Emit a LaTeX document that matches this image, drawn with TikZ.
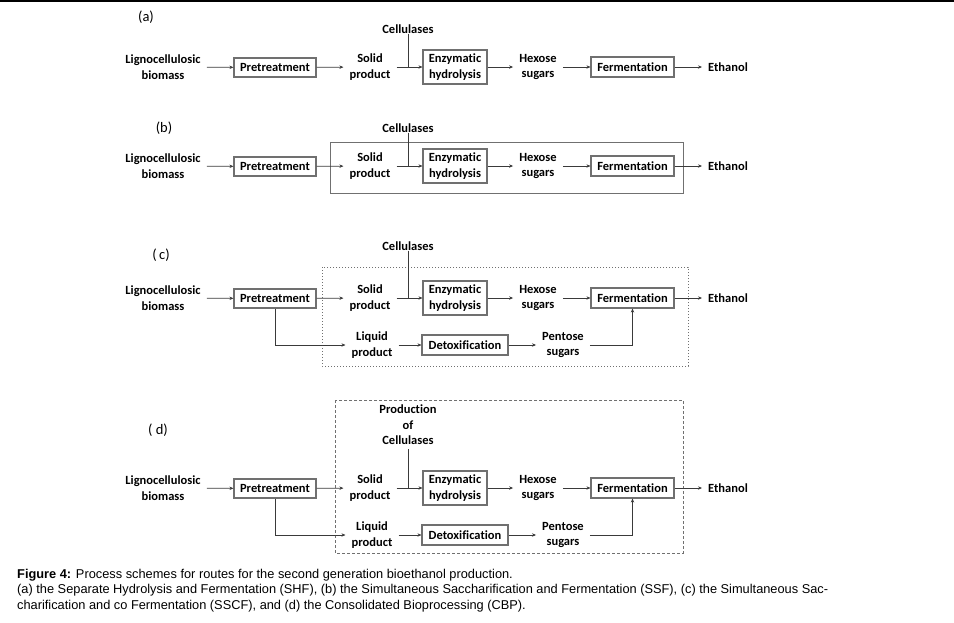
\documentclass[tikz,border=0pt]{standalone}
\usepackage{fontspec}
\setmainfont{Liberation Sans}
\newfontfamily\calfont[Ligatures=CommonOff]{Carlito}
\newfontfamily\capfont{Liberation Sans}
\usetikzlibrary{arrows.meta}
\definecolor{ln}{HTML}{3A3A3A}
\definecolor{bx}{HTML}{707070}
\tikzset{
  lbl/.style={font=\calfont\bfseries\fontsize{12.5}{15.5}\selectfont, align=center, inner sep=0pt, text=black},
  txt/.style={lbl, inner xsep=6pt},
  procbox/.style={lbl, draw=bx, line width=1.1pt, fill=white, inner xsep=4pt, inner ysep=3pt},
  part/.style={font=\calfont\fontsize{14.5}{16}\selectfont, inner sep=0pt},
  arr/.style={draw=ln, line width=0.7pt, -{Stealth[length=4pt,width=3.4pt]}},
  ln/.style={draw=ln, line width=0.7pt},
  captxt/.style={anchor=west, inner sep=0pt, font=\capfont\fontsize{12.8}{15.5}\selectfont},
}
\begin{document}
\begin{tikzpicture}[x=1pt,y=-1pt]
\useasboundingbox (0,0) rectangle (954,622);
\fill[black] (0,0) rectangle (954,1.6);

% ---------------- (a)
\node[part] (la) at (146,17) {(a)};
\node[lbl] (celA) at (408,29) {Cellulases};
\node[txt] (bioA) at (163,67) {Lignocellulosic\\biomass};
\node[procbox, minimum width=82pt, minimum height=19pt] (preA) at (275,67.5) {Pretreatment};
\node[txt] (solA) at (370,67) {Solid\\product};
\node[procbox, minimum width=64pt, minimum height=34pt] (enzA) at (455,67) {Enzymatic\\hydrolysis};
\node[txt] (hexA) at (538,67) {Hexose\\sugars};
\node[procbox, minimum width=83pt, minimum height=20pt] (ferA) at (632.5,67) {Fermentation};
\node[txt] (ethA) at (728,67) {Ethanol};
\draw[arr] (bioA) -- (preA);
\draw[arr] (preA) -- (solA);
\draw[arr] (solA) -- (enzA);
\draw[ln] (celA.south) -- (celA.south |- solA.center);
\draw[arr] (enzA) -- (hexA);
\draw[arr] (hexA) -- (ferA);
\draw[arr] (ferA) -- (ethA);

% ---------------- (b)
\node[part] (lb) at (164,128) {(b)};
\draw[draw=bx, line width=0.8pt] (330,142) rectangle (683,193);
\node[lbl] (celB) at (408,128) {Cellulases};
\node[txt] (bioB) at (163,166) {Lignocellulosic\\biomass};
\node[procbox, minimum width=82pt, minimum height=19pt] (preB) at (275,166.5) {Pretreatment};
\node[txt] (solB) at (370,166) {Solid\\product};
\node[procbox, minimum width=64pt, minimum height=34pt] (enzB) at (455,166) {Enzymatic\\hydrolysis};
\node[txt] (hexB) at (538,166) {Hexose\\sugars};
\node[procbox, minimum width=83pt, minimum height=20pt] (ferB) at (632.5,166) {Fermentation};
\node[txt] (ethB) at (728,166) {Ethanol};
\draw[arr] (bioB) -- (preB);
\draw[arr] (preB) -- (solB);
\draw[arr] (solB) -- (enzB);
\draw[ln] (celB.south) -- (celB.south |- solB.center);
\draw[arr] (enzB) -- (hexB);
\draw[arr] (hexB) -- (ferB);
\draw[arr] (ferB) -- (ethB);

% ---------------- (c)
\node[part] (lc) at (161,255) {(\,c)};
\draw[draw=bx, line width=0.8pt, dash pattern=on 1pt off 2pt] (322,267) rectangle (688,366);
\node[lbl] (celC) at (408,246) {Cellulases};
\node[txt] (bioC) at (163,298) {Lignocellulosic\\biomass};
\node[procbox, minimum width=82pt, minimum height=19pt] (preC) at (275,298.5) {Pretreatment};
\node[txt] (solC) at (370,298) {Solid\\product};
\node[procbox, minimum width=64pt, minimum height=34pt] (enzC) at (455,298) {Enzymatic\\hydrolysis};
\node[txt] (hexC) at (538,298) {Hexose\\sugars};
\node[procbox, minimum width=83pt, minimum height=20pt] (ferC) at (632.5,298) {Fermentation};
\node[txt] (ethC) at (728,298) {Ethanol};
\node[txt] (liqC) at (372,345) {Liquid\\product};
\node[procbox, minimum width=86pt, minimum height=20pt] (detC) at (465,345) {Detoxification};
\node[txt] (penC) at (563,345) {Pentose\\sugars};
\draw[arr] (bioC) -- (preC);
\draw[arr] (preC) -- (solC);
\draw[arr] (solC) -- (enzC);
\draw[ln] (celC.south) -- (celC.south |- solC.center);
\draw[arr] (enzC) -- (hexC);
\draw[arr] (hexC) -- (ferC);
\draw[arr] (ferC) -- (ethC);
\draw[arr] (preC.south) |- (liqC.west);
\draw[arr] (liqC) -- (detC);
\draw[arr] (detC) -- (penC);
\draw[arr] (penC.east) -| (ferC.south);

% ---------------- (d)
\node[part] (ld) at (158,430) {( d)};
\draw[draw=bx, line width=0.8pt, dash pattern=on 3pt off 2pt] (335,400) rectangle (683,553);
\node[lbl] (celD) at (408,425) {Production\\of\\Cellulases};
\node[txt] (bioD) at (163,488) {Lignocellulosic\\biomass};
\node[procbox, minimum width=82pt, minimum height=19pt] (preD) at (275,488.5) {Pretreatment};
\node[txt] (solD) at (370,488) {Solid\\product};
\node[procbox, minimum width=64pt, minimum height=34pt] (enzD) at (455,488) {Enzymatic\\hydrolysis};
\node[txt] (hexD) at (538,488) {Hexose\\sugars};
\node[procbox, minimum width=83pt, minimum height=20pt] (ferD) at (632.5,488) {Fermentation};
\node[txt] (ethD) at (728,488) {Ethanol};
\node[txt] (liqD) at (372,535) {Liquid\\product};
\node[procbox, minimum width=86pt, minimum height=20pt] (detD) at (465,535) {Detoxification};
\node[txt] (penD) at (563,535) {Pentose\\sugars};
\draw[arr] (bioD) -- (preD);
\draw[arr] (preD) -- (solD);
\draw[arr] (solD) -- (enzD);
\draw[ln] ([yshift=-4pt]celD.south) -- (celD.south |- solD.center);
\draw[arr] (enzD) -- (hexD);
\draw[arr] (hexD) -- (ferD);
\draw[arr] (ferD) -- (ethD);
\draw[arr] (preD.south) |- (liqD.west);
\draw[arr] (liqD) -- (detD);
\draw[arr] (detD) -- (penD);
\draw[arr] (penD.east) -| (ferD.south);

% ---------------- caption
\node[captxt] (cap1) at (17,575) {\textbf{Figure 4:} Process schemes for routes for the second generation bioethanol production.};
\node[captxt] (cap2) at (17,590.5) {(a) the Separate Hydrolysis and Fermentation (SHF), (b) the Simultaneous Saccharification and Fermentation (SSF), (c) the Simultaneous Sac-};
\node[captxt] (cap3) at (17,606) {charification and co Fermentation (SSCF), and (d) the Consolidated Bioprocessing (CBP).};
\end{tikzpicture}
\end{document}
